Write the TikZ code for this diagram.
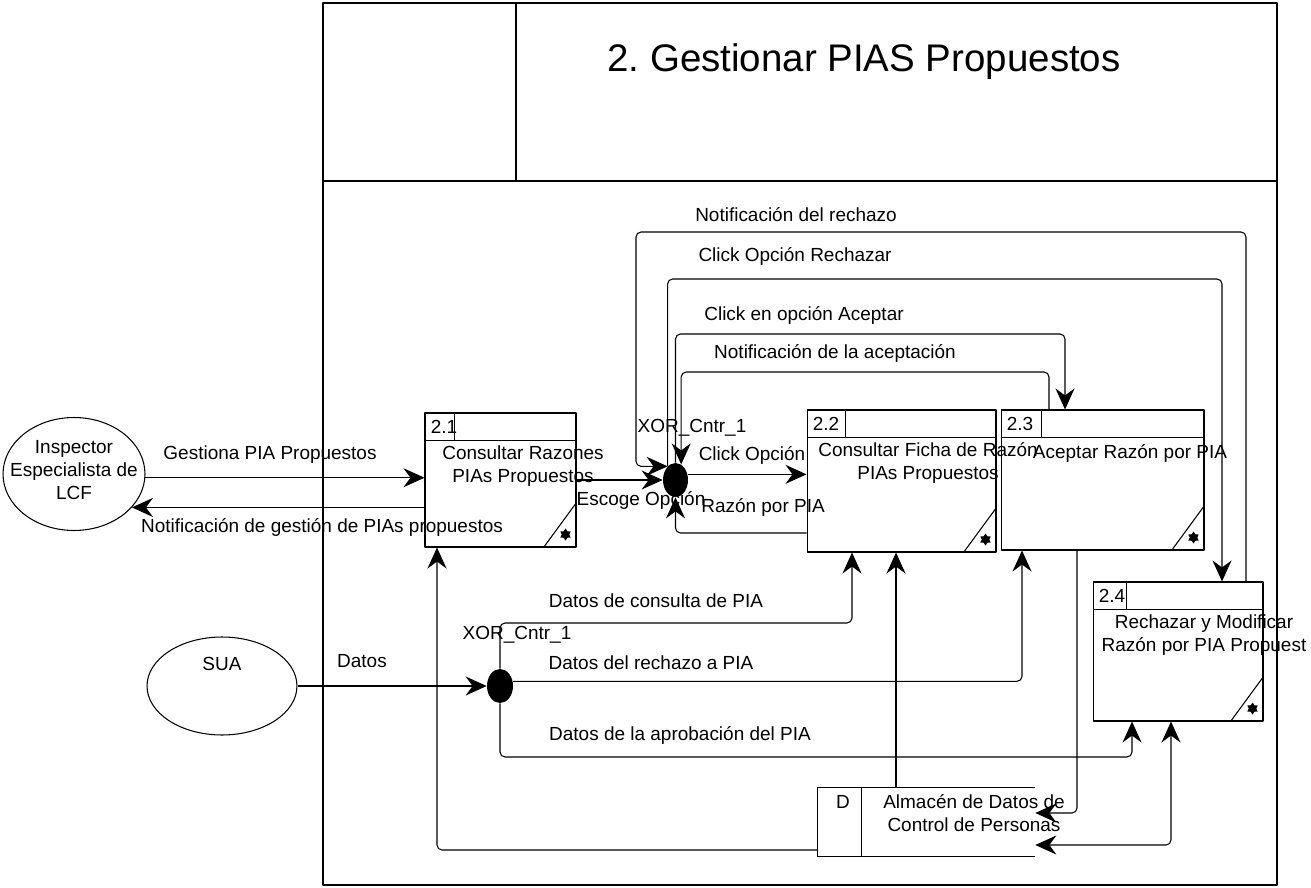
\documentclass[tikz,border=0pt]{standalone}
\usepackage{fontspec}
\setmainfont{Liberation Sans}
\frenchspacing
\usetikzlibrary{arrows.meta,shapes.geometric,calc,positioning}
\newcommand\lblfont{\fontsize{10.8}{13.1}\selectfont}
\tikzset{
  flow/.style={line width=0.6pt,-{Stealth[length=4.2mm,width=3.8mm,inset=1.4mm]},rounded corners=1mm},
  flowboth/.style={line width=0.6pt,{Stealth[length=4.2mm,width=3.8mm,inset=1.4mm]}-{Stealth[length=4.2mm,width=3.8mm,inset=1.4mm]},rounded corners=1mm},
  lbl/.style={font=\lblfont,inner sep=0pt,align=center},
  proc/.style={draw,line width=0.6pt,inner sep=0pt},
  xor/.style={ellipse,fill,inner sep=0pt,minimum width=5mm,minimum height=6.8mm},
  ent/.style={ellipse,draw,line width=0.6pt,inner sep=0pt},
}
\begin{document}
\begin{tikzpicture}[x=0.02cm,y=-0.02cm,line join=round]
\useasboundingbox (0,0) rectangle (1311,888);
% marco y titulo
\draw[line width=0.8pt] (323,3) rectangle (1277,885);
\draw[line width=0.8pt] (323,181) -- (1277,181) (516,3) -- (516,181);
\node[font=\fontsize{21.9}{26}\selectfont,inner sep=0pt] (title) at (864,62) {2. Gestionar PIAS Propuestos};

% entidades externas
\node[ent,minimum width=28.4mm,minimum height=22.6mm] (ins) at (74,474) {};
\node[lbl] (instxt) at (74,470) {Inspector\\Especialista de\\LCF};
\node[ent,minimum width=30mm,minimum height=19.6mm] (sua) at (222,686) {};
\node[lbl] (suatxt) at (222,664) {SUA};

% procesos
\node[proc,minimum width=30.2mm,minimum height=26.8mm] (p21) at (500.5,480) {};
\node[proc,minimum width=37.8mm,minimum height=28.4mm] (p22) at (901.5,481) {};
\node[proc,minimum width=40.6mm,minimum height=28mm] (p23) at (1102.5,480) {};
\node[proc,minimum width=34mm,minimum height=27.8mm] (p24) at (1178,651.5) {};
\foreach \p/\d/\n in {p21/30/2.1,p22/39/2.2,p23/41/2.3,p24/34/2.4}{
  \draw[line width=0.6pt] (\p.north west) ++(0,28) coordinate (\p h) -- (\p h -| \p.east);
  \draw[line width=0.6pt] (\p.north west) ++(\d,0) -- ++(0,28);
  \draw[line width=0.6pt] (\p.south east) ++(-33,0) -- ++(33,-45);
  \node[lbl,anchor=west] (\p n) at ([shift={(6,14)}]\p.north west) {\n};
  \node[star,star points=6,star point ratio=1.6,fill,inner sep=0pt,minimum size=2.4mm] (\p s) at ([shift={(-11,-13)}]\p.south east) {};
}
\node[lbl] (t21) at (523,466) {Consultar Razones\\PIAs Propuestos};
\node[lbl] (t22) at (928,463) {Consultar Ficha de Razón\\PIAs Propuestos};
\node[lbl] (t23) at (1130,453) {Aceptar Razón por PIA};
\node[lbl] (t24) at (1204,635) {Rechazar y Modificar\\Razón por PIA Propuest};

% almacen
\node[minimum width=43.4mm,minimum height=13.6mm,inner sep=0pt] (store) at (926.5,822) {};
\draw[line width=0.6pt] (store.north east) -- (store.north west) -- (store.south west) -- (store.south east);
\draw[line width=0.6pt] (store.north west) ++(44,0) -- ++(0,68);
\node[lbl] (storeid) at (843,802) {D};
\node[lbl] (storetxt) at (974,813) {Almacén de Datos de\\Control de Personas};

% conectores XOR
\node[xor] (xa) at (675.5,480) {};
\node[xor,minimum width=5.2mm] (xb) at (500,686) {};

% flujos
\draw[flow] (ins.357) -- (ins.357 -| p21.west);
\draw[flow] (p21.west |- ins.330) -- (ins.330);
\draw[flow] (sua.east) -- (xb.west);
\draw[flow] (p21.east) -- (xa.west);
\draw[flow] (xa.25) -- (xa.25 -| p22.west);
\draw[flow] (p22.west |- 0,533) -| (xa.south);
\draw[flow] (p24.north -| 1246,0) |- (636,232) |- (xa.120);
\draw[flow] (xa.120) |- (1222,279) -- (p24.north -| 1222,0);
\draw[flow] (xa.north) |- (1065,334) -- (p23.north -| 1065,0);
\draw[flow] (p23.north -| 1049,0) |- (xa.70 |- 0,372) -- (xa.70);
\draw[flow] (xb.north) |- (852,623) -- (p22.south -| 852,0);
\draw[flow] (xb.20) -| (p23.south -| 1022,0);
\draw[flow] (xb.south) |- (1132,757) -- (p24.south -| 1132,0);
\draw[flow] (store.west |- 0,850) -| (p21.south -| 437,0);
\draw[flow] (store.north -| 896,0) -- (p22.south -| 896,0);
\draw[flow] (p23.south -| 1077,0) |- (store.east |- 0,813);
\draw[flowboth] (p24.south -| 1171,0) |- (store.east |- 0,845);

% etiquetas
\node[lbl] (lgest) at (270,455) {Gestiona PIA Propuestos};
\node[lbl] (lnotg) at (322,527) {Notificación de gestión de PIAs propuestos};
\node[lbl] (lesc) at (641,500) {Escoge Opción};
\node[lbl] (lclick) at (752,455) {Click Opción};
\node[lbl] (lrazon) at (763,507) {Razón por PIA};
\node[lbl] (lxa) at (692,428) {XOR\_Cntr\_1};
\node[lbl] (lnrech) at (796,215) {Notificación del rechazo};
\node[lbl] (lcrech) at (795,256) {Click Opción Rechazar};
\node[lbl] (lcacep) at (804,315) {Click en opción Aceptar};
\node[lbl] (lnacep) at (835,353) {Notificación de la aceptación};
\node[lbl] (lcons) at (656,601) {Datos de consulta de PIA};
\node[lbl] (lxb) at (517,635) {XOR\_Cntr\_1};
\node[lbl] (ldrech) at (651,663) {Datos del rechazo a PIA};
\node[lbl] (laprob) at (680,735) {Datos de la aprobación del PIA};
\node[lbl] (ldatos) at (362,661) {Datos};
\end{tikzpicture}
\end{document}
